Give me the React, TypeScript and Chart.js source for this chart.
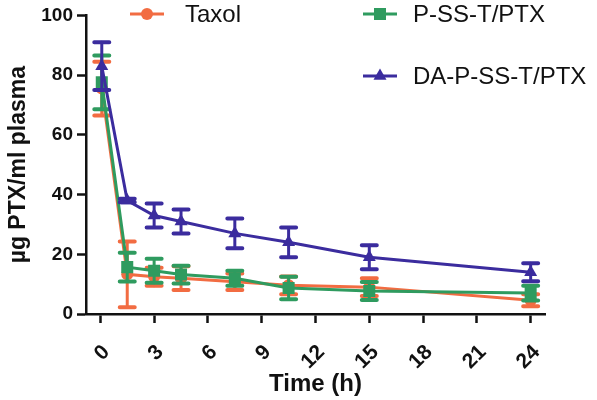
import React, { useEffect, useRef } from "react";
import { Chart, registerables } from "chart.js";

Chart.register(...registerables);

// ---- data ----
const timesH = [0.08, 1.5, 3, 4.5, 7.5, 10.5, 15, 24];
const taxolMean = [75.5, 13.3, 12.5, 12, 10.8, 9.6, 9, 4.6];
const taxolErr = [9, 11, 3, 4, 2.8, 3, 3, 2];
const psstMean = [77.6, 15.7, 14.5, 13.2, 12, 8.7, 7.7, 7];
const psstErr = [9, 4.8, 4, 3, 2.5, 3.8, 3, 2.5];
const dapsstMean = [83, 38, 33, 31, 27, 24, 19, 14];
const dapsstErr = [8, 0.6, 4, 4, 5, 5, 4, 3];
const seriesNames = ["Taxol", "P-SS-T/PTX", "DA-P-SS-T/PTX"];
const xTickValues = [0, 3, 6, 9, 12, 15, 18, 21, 24];
const yTickValues = [0, 20, 40, 60, 80, 100];

const COLORS = ["#F26C42", "#2F9B5F", "#3B2C9E"];
const STYLES = ["circle", "rect", "triangle"];
const RADII = [6, 8.5, 7.5];
const FONT = "'Liberation Sans', Arial, Helvetica, sans-serif";

const means = [taxolMean, psstMean, dapsstMean];
const errs = [taxolErr, psstErr, dapsstErr];

function drawMarker(ctx: any, style: string, r: number, x: number, y: number) {
  ctx.beginPath();
  if (style === "circle") {
    ctx.arc(x, y, r, 0, Math.PI * 2);
  } else if (style === "rect") {
    const s = Math.SQRT1_2 * r;
    ctx.rect(x - s, y - s, 2 * s, 2 * s);
  } else {
    ctx.moveTo(x, y - r);
    ctx.lineTo(x + Math.sin((2 * Math.PI) / 3) * r, y - Math.cos((2 * Math.PI) / 3) * r);
    ctx.lineTo(x + Math.sin((4 * Math.PI) / 3) * r, y - Math.cos((4 * Math.PI) / 3) * r);
    ctx.closePath();
  }
  ctx.fill();
}

const errorBarPlugin = {
  id: "errorBars",
  beforeDatasetDraw(chart: any, args: any) {
    const i = args.index;
    const ds = chart.data.datasets[i];
    const errArr = ds.errors as number[];
    if (!errArr) return;
    const xs = chart.scales.x;
    const ys = chart.scales.y;
    const ctx = chart.ctx;
    ctx.save();
    ctx.strokeStyle = ds.borderColor;
    ctx.lineCap = "round";
    ds.data.forEach((p: any, k: number) => {
      const e = errArr[k];
      if (!e) return;
      const px = xs.getPixelForValue(p.x);
      const top = ys.getPixelForValue(p.y + e);
      const bot = ys.getPixelForValue(p.y - e);
      ctx.lineWidth = 3;
      ctx.beginPath();
      ctx.moveTo(px, top);
      ctx.lineTo(px, bot);
      ctx.stroke();
      ctx.lineWidth = 4;
      ctx.beginPath();
      ctx.moveTo(px - 7.5, top);
      ctx.lineTo(px + 7.5, top);
      ctx.moveTo(px - 7.5, bot);
      ctx.lineTo(px + 7.5, bot);
      ctx.stroke();
    });
    ctx.restore();
  },
};

const legendPlugin = {
  id: "customLegend",
  afterDraw(chart: any) {
    const ctx = chart.ctx;
    const items = [
      { lx: 130, y: 14, tx: 185 },
      { lx: 363, y: 14, tx: 413 },
      { lx: 363, y: 76, tx: 413 },
    ];
    ctx.save();
    items.forEach((it, i) => {
      const c = COLORS[i];
      ctx.strokeStyle = c;
      ctx.fillStyle = c;
      ctx.lineWidth = 3;
      ctx.beginPath();
      ctx.moveTo(it.lx, it.y);
      ctx.lineTo(it.lx + 34, it.y);
      ctx.stroke();
      drawMarker(ctx, STYLES[i], RADII[i], it.lx + 17, it.y);
      ctx.fillStyle = "#111";
      ctx.font = `24px ${FONT}`;
      ctx.textBaseline = "middle";
      ctx.textAlign = "left";
      ctx.fillText(seriesNames[i], it.tx, it.y + 1);
    });
    ctx.restore();
  },
};

export default function App() {
  const ref = useRef<HTMLCanvasElement | null>(null);

  useEffect(() => {
    if (!ref.current) return;
    Chart.defaults.font.family = FONT;

    const datasets = seriesNames.map((name, i) => ({
      type: "line" as const,
      label: name,
      data: timesH.map((t, k) => ({ x: t, y: means[i][k] })),
      errors: errs[i],
      borderColor: COLORS[i],
      backgroundColor: COLORS[i],
      borderWidth: 3,
      pointStyle: STYLES[i],
      pointRadius: RADII[i],
      pointBorderWidth: 0,
      tension: 0,
      order: 2 - i,
    }));

    const yTickFont = { family: FONT, size: 19, weight: "bold" as const };
    const xTickFont = { family: FONT, size: 21, weight: "bold" as const };

    const chart = new Chart(ref.current, {
      type: "line",
      data: { datasets: datasets as any },
      options: {
        animation: false,
        responsive: false,
        devicePixelRatio: 1,
        layout: { padding: { left: 0, top: 12, right: 52, bottom: 0 } },
        plugins: { legend: { display: false }, tooltip: { enabled: false } },
        scales: {
          x: {
            type: "linear",
            min: -0.8,
            max: 24.8,
            afterBuildTicks: (s: any) => {
              s.ticks = xTickValues.map((v) => ({ value: v }));
            },
            afterFit: (s: any) => {
              s.height = 86;
            },
            ticks: {
              minRotation: 45,
              maxRotation: 45,
              autoSkip: false,
              font: xTickFont,
              color: "#111",
              padding: 17,
              labelOffset: 6,
            },
            grid: {
              drawOnChartArea: false,
              drawTicks: true,
              tickLength: 9,
              tickWidth: 2.5,
              tickColor: "#111",
            },
            border: { display: true, color: "#111", width: 2.5 },
            title: {
              display: true,
              text: "Time (h)",
              color: "#111",
              font: { family: FONT, size: 24, weight: "bold" },
              padding: { top: 0, bottom: 1 },
            },
          },
          y: {
            type: "linear",
            min: 0,
            max: 100,
            afterBuildTicks: (s: any) => {
              s.ticks = yTickValues.map((v) => ({ value: v }));
            },
            afterFit: (s: any) => {
              s.width = 86;
            },
            ticks: { font: yTickFont, color: "#111", padding: 4 },
            grid: {
              drawOnChartArea: false,
              drawTicks: true,
              tickLength: 9,
              tickWidth: 2.5,
              tickColor: "#111",
            },
            border: { display: true, color: "#111", width: 2.5 },
            title: {
              display: true,
              text: "µg PTX/ml plasma",
              color: "#111",
              font: { family: FONT, size: 23, weight: "bold" },
              padding: { top: 5, bottom: 0 },
            },
          },
        },
      },
      plugins: [errorBarPlugin, legendPlugin],
    });
    return () => chart.destroy();
  }, []);

  return (
    <div style={{ position: "fixed", left: 0, top: 0, width: 597, height: 400, background: "#fff" }}>
      <canvas ref={ref} width={597} height={400} style={{ width: 597, height: 400 }} />
    </div>
  );
}
